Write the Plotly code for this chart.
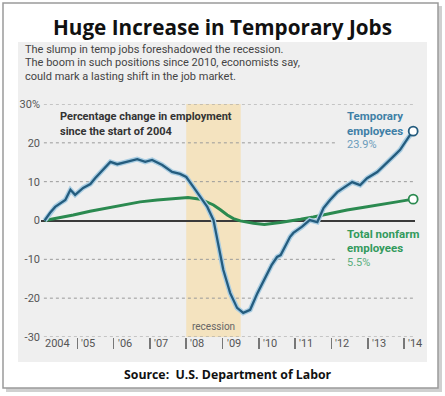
import plotly.graph_objects as go

# ---- data ----
temp_x = [2004.10, 2004.25, 2004.39, 2004.53, 2004.67, 2004.81, 2004.94, 2005.16, 2005.36, 2005.49,
          2005.71, 2005.91, 2006.10, 2006.38, 2006.65, 2006.87, 2007.06, 2007.34, 2007.61, 2007.83,
          2008.00, 2008.20, 2008.40, 2008.58, 2008.75, 2008.88, 2009.02, 2009.21, 2009.40, 2009.57,
          2009.76, 2009.96, 2010.17, 2010.35, 2010.50, 2010.60, 2010.86, 2010.95, 2011.19, 2011.40,
          2011.61, 2011.78, 2011.96, 2012.16, 2012.33, 2012.57, 2012.79, 2012.98, 2013.26, 2013.53,
          2013.75, 2013.89, 2014.02, 2014.16, 2014.25]
temp_y = [0.0, 2.0, 3.5, 4.5, 5.3, 7.9, 6.6, 8.4, 9.4, 10.9,
          13.0, 15.1, 14.5, 15.1, 15.8, 15.1, 15.6, 14.3, 12.5, 12.0,
          11.2, 8.6, 6.0, 3.5, 0.1, -5.8, -12.7, -18.7, -22.5, -23.8,
          -23.0, -18.7, -14.6, -11.5, -9.4, -8.9, -4.2, -3.2, -1.6, 0.1,
          -0.4, 3.2, 5.3, 7.3, 8.4, 9.9, 9.1, 10.9, 12.5, 14.8,
          16.9, 18.2, 20.2, 22.0, 23.0]

nonfarm_x = [2004.10, 2004.50, 2004.89, 2005.35, 2005.82, 2006.25, 2006.73, 2007.20, 2007.64, 2008.05,
             2008.39, 2008.60, 2008.75, 2008.95, 2009.13, 2009.30, 2009.49, 2009.85, 2010.15, 2010.59,
             2010.90, 2011.15, 2011.50, 2012.00, 2012.43, 2012.90, 2013.34, 2013.80, 2014.25]
nonfarm_y = [0.0, 0.7, 1.4, 2.4, 3.2, 4.0, 4.8, 5.3, 5.7, 5.9,
             5.5, 4.7, 4.0, 2.7, 1.4, 0.5, -0.1, -0.7, -1.0, -0.5,
             -0.1, 0.3, 0.9, 1.9, 2.7, 3.4, 4.0, 4.8, 5.5]

recession = [2008.0, 2009.5]
y_ticks = [-30, -20, -10, 0, 10, 20, 30]
y_labels = ["-30", "-20", "-10", "0", "10", "20", "30%"]
x_years = [2004, 2005, 2006, 2007, 2008, 2009, 2010, 2011, 2012, 2013, 2014]
x_labels = ["2004", "'05", "'06", "'07", "'08", "'09", "'10", "'11", "'12", "'13", "'14"]
grid_levels = [30, 20, 10, -10, -20, -30]
grid_ends = [2014.25, 2012.1, 2014.25, 2012.1, 2014.25, 2014.25]

title = "Huge Increase in Temporary Jobs"
subtitle = ["The slump in temp jobs foreshadowed the recession.",
            "The boom in such positions since 2010, economists say,",
            "could mark a lasting shift in the job market."]
source = "Source:  U.S. Department of Labor"

BLUE = "#245c7e"
BLUE_HALO = "#a9cde2"
GREEN = "#2b8a50"
BLUE_TXT = "#3f7fa6"
GREEN_TXT = "#339a5c"
SANS = "Roboto, Open Sans, sans-serif"

fig = go.Figure()

fig.add_trace(go.Scatter(x=nonfarm_x, y=nonfarm_y, mode="lines",
                         line=dict(color=GREEN, width=3), hoverinfo="skip"))
fig.add_trace(go.Scatter(x=temp_x, y=temp_y, mode="lines",
                         line=dict(color=BLUE_HALO, width=5), hoverinfo="skip"))
fig.add_trace(go.Scatter(x=temp_x, y=temp_y, mode="lines",
                         line=dict(color=BLUE, width=2.3), hoverinfo="skip"))
fig.add_trace(go.Scatter(x=[temp_x[-1]], y=[temp_y[-1]], mode="markers", cliponaxis=False,
                         marker=dict(size=9, color="white", line=dict(color=BLUE, width=1.8))))
fig.add_trace(go.Scatter(x=[nonfarm_x[-1]], y=[nonfarm_y[-1]], mode="markers", cliponaxis=False,
                         marker=dict(size=9, color="white", line=dict(color=GREEN, width=1.8))))

shapes = []
# frame shadow, frame, gray panel (paper coords)
shapes.append(dict(type="rect", xref="paper", yref="paper", x0=-0.0936, x1=1.0722, y0=-0.2361, y1=1.4206,
                   fillcolor="#d0d0d0", line=dict(width=0), layer="below"))
shapes.append(dict(type="rect", xref="paper", yref="paper", x0=-0.1016, x1=1.0615, y0=-0.2189, y1=1.4335,
                   fillcolor="white", line=dict(color="#9a9a9a", width=1.5), layer="below"))
shapes.append(dict(type="rect", xref="paper", yref="paper", x0=-0.0615, x1=1.0321, y0=-0.1073, y1=1.2661,
                   fillcolor="#efefef", line=dict(width=0), layer="below"))
# recession shading
shapes.append(dict(type="rect", xref="x", yref="y", x0=recession[0], x1=recession[1], y0=-30, y1=30,
                   fillcolor="#f4e3bf", line=dict(width=0), layer="below"))
# dotted gridlines
for lv, xe in zip(grid_levels, grid_ends):
    shapes.append(dict(type="line", xref="x", yref="y", x0=2004.08, x1=xe, y0=lv, y1=lv,
                       line=dict(color="#9a9a9a", width=1, dash="dot"), layer="below"))

annotations = []
annotations.append(dict(text="<b>" + title + "</b>", xref="paper", yref="paper", x=0.4866, y=1.3305,
                        xanchor="center", yanchor="middle", showarrow=False,
                        font=dict(family="Open Sans, sans-serif", size=20.7, color="#111")))
for i, line in enumerate(subtitle):
    annotations.append(dict(text=line, xref="paper", yref="paper", x=-0.0481, y=[1.2318, 1.176, 1.1159][i],
                            xanchor="left", yanchor="middle", showarrow=False,
                            font=dict(family=SANS, size=11, color="#444")))
annotations.append(dict(text="<b>Percentage change in employment</b>", xref="x", yref="y", x=2004.47, y=26.9,
                        xanchor="left", yanchor="middle", showarrow=False, font=dict(family=SANS, size=11, color="#333")))
annotations.append(dict(text="<b>since the start of 2004</b>", xref="x", yref="y", x=2004.47, y=22.8,
                        xanchor="left", yanchor="middle", showarrow=False, font=dict(family=SANS, size=11, color="#333")))
annotations.append(dict(text="<b>Temporary</b>", xref="x", yref="y", x=2012.38, y=26.9,
                        xanchor="left", yanchor="middle", showarrow=False, font=dict(family=SANS, size=11.5, color=BLUE_TXT)))
annotations.append(dict(text="<b>employees</b>", xref="x", yref="y", x=2012.38, y=23.05,
                        xanchor="left", yanchor="middle", showarrow=False, font=dict(family=SANS, size=11.5, color=BLUE_TXT)))
annotations.append(dict(text="23.9%", xref="x", yref="y", x=2012.38, y=19.7,
                        xanchor="left", yanchor="middle", showarrow=False, font=dict(family=SANS, size=11, color="#6a9cbb")))
annotations.append(dict(text="<b>Total nonfarm</b>", xref="x", yref="y", x=2012.38, y=-3.48,
                        xanchor="left", yanchor="middle", showarrow=False, font=dict(family=SANS, size=11.5, color=GREEN_TXT)))
annotations.append(dict(text="<b>employees</b>", xref="x", yref="y", x=2012.38, y=-7.08,
                        xanchor="left", yanchor="middle", showarrow=False, font=dict(family=SANS, size=11.5, color=GREEN_TXT)))
annotations.append(dict(text="5.5%", xref="x", yref="y", x=2012.38, y=-10.94,
                        xanchor="left", yanchor="middle", showarrow=False, font=dict(family=SANS, size=11, color="#5aae7c")))
annotations.append(dict(text="recession", xref="x", yref="y", x=2008.1, y=-27.2,
                        xanchor="left", yanchor="middle", showarrow=False, font=dict(family=SANS, size=10, color="#666")))
for yr, lab in zip(x_years, x_labels):
    annotations.append(dict(text=lab, xref="x", yref="paper", x=yr, y=-0.0258, xshift=2,
                            xanchor="left", yanchor="middle", showarrow=False,
                            font=dict(family=SANS, size=11, color="#555")))
annotations.append(dict(text="<b>" + source + "</b>", xref="paper", yref="paper", x=0.5, y=-0.163,
                        xanchor="center", yanchor="middle", showarrow=False,
                        font=dict(family="Open Sans, sans-serif", size=12.3, color="#111")))

fig.update_layout(
    width=445, height=396,
    margin=dict(l=41, r=30, t=104, b=59),
    paper_bgcolor="white", plot_bgcolor="rgba(0,0,0,0)",
    showlegend=False,
    shapes=shapes, annotations=annotations,
    xaxis=dict(range=[2004.0, 2014.3], showgrid=False, zeroline=False, showline=False,
               tickvals=x_years[1:], ticks="outside", ticklen=11, tickwidth=1.5, tickcolor="#777",
               showticklabels=False, fixedrange=True),
    yaxis=dict(range=[-30, 30], tickvals=y_ticks, ticktext=y_labels, showgrid=False,
               zeroline=True, zerolinecolor="#3a3a3a", zerolinewidth=2, showline=False,
               tickfont=dict(family=SANS, size=11, color="#555"), fixedrange=True),
)

fig.write_html("out.html", config={"displayModeBar": False, "staticPlot": True},
               post_script="document.body.style.margin='0';document.body.style.overflow='hidden';")
